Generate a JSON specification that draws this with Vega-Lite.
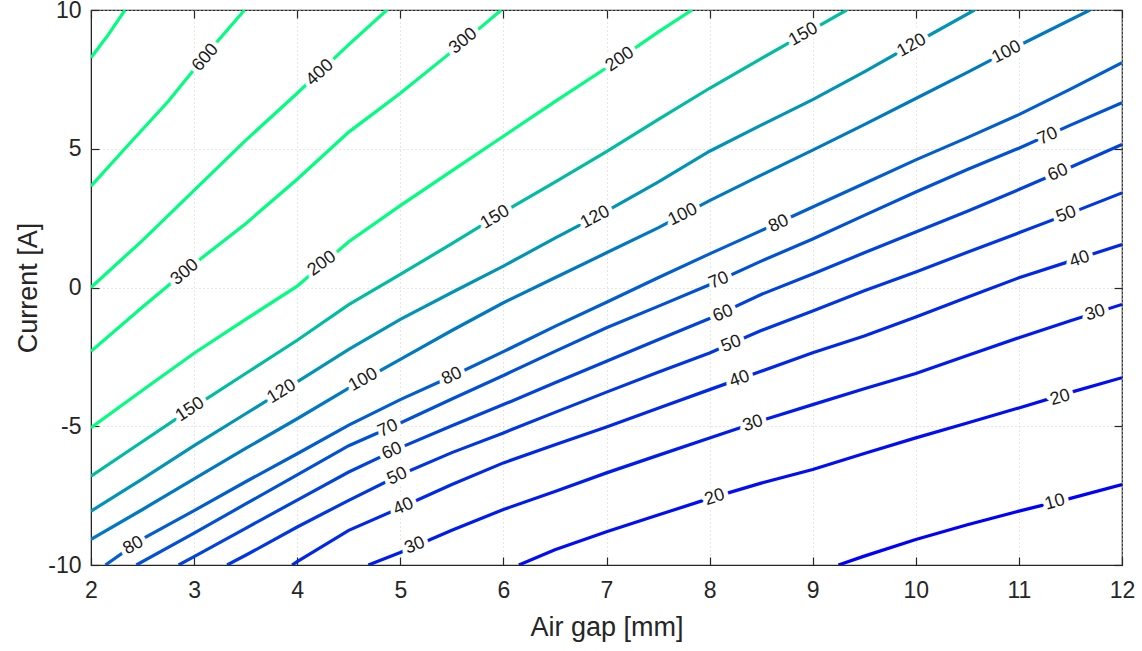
{
  "$schema": "https://vega.github.io/schema/vega-lite/v6.json",
  "width": 1031,
  "height": 555,
  "autosize": {"type": "none"},
  "padding": {"left": 91, "top": 10, "right": 20, "bottom": 86},
  "background": "white",
  "config": {
    "view": {"stroke": "#262626", "strokeWidth": 1.2},
    "font": "Liberation Sans",
    "axis": {
      "labelFont": "Liberation Sans",
      "titleFont": "Liberation Sans",
      "labelColor": "#262626",
      "titleColor": "#262626",
      "labelFontSize": 23,
      "titleFontSize": 27,
      "titleFontWeight": "normal",
      "domainColor": "#262626",
      "tickColor": "#262626",
      "tickWidth": 1.2,
      "gridColor": "#cfcfcf",
      "gridDash": [1, 3],
      "gridWidth": 1
    }
  },
  "resolve": {"axis": {"x": "independent", "y": "independent"}},
  "datasets": {
    "lines": [
      {"level": 800, "gap": 2, "current": 8.28}, {"level": 800, "gap": 2.17, "current": 9.12}, {"level": 800, "gap": 2.33, "current": 10},
      {"level": 600, "gap": 2, "current": 3.65}, {"level": 600, "gap": 2.33, "current": 5.01}, {"level": 600, "gap": 2.75, "current": 6.71}, {"level": 600, "gap": 3, "current": 7.86}, {"level": 600, "gap": 3.23, "current": 8.88}, {"level": 600, "gap": 3.49, "current": 10},
      {"level": 400, "gap": 2, "current": 0}, {"level": 400, "gap": 2.5, "current": 1.7}, {"level": 400, "gap": 3, "current": 3.5}, {"level": 400, "gap": 3.5, "current": 5.3}, {"level": 400, "gap": 4, "current": 7.0}, {"level": 400, "gap": 4.5, "current": 8.75}, {"level": 400, "gap": 4.87, "current": 10},
      {"level": 300, "gap": 2, "current": -2.3}, {"level": 300, "gap": 2.5, "current": -0.7}, {"level": 300, "gap": 3, "current": 0.85}, {"level": 300, "gap": 3.5, "current": 2.3}, {"level": 300, "gap": 4, "current": 3.9}, {"level": 300, "gap": 4.5, "current": 5.6}, {"level": 300, "gap": 5, "current": 7.0}, {"level": 300, "gap": 5.5, "current": 8.5}, {"level": 300, "gap": 5.98, "current": 10},
      {"level": 200, "gap": 2, "current": -5.05}, {"level": 200, "gap": 2.5, "current": -3.7}, {"level": 200, "gap": 3, "current": -2.37}, {"level": 200, "gap": 3.5, "current": -1.15}, {"level": 200, "gap": 4, "current": 0.05}, {"level": 200, "gap": 4.5, "current": 1.65}, {"level": 200, "gap": 5, "current": 2.95}, {"level": 200, "gap": 5.5, "current": 4.2}, {"level": 200, "gap": 6, "current": 5.45}, {"level": 200, "gap": 6.5, "current": 6.7}, {"level": 200, "gap": 7, "current": 7.92}, {"level": 200, "gap": 7.5, "current": 9.2}, {"level": 200, "gap": 7.83, "current": 10},
      {"level": 150, "gap": 2, "current": -6.8}, {"level": 150, "gap": 2.5, "current": -5.55}, {"level": 150, "gap": 3, "current": -4.3}, {"level": 150, "gap": 3.5, "current": -3.1}, {"level": 150, "gap": 4, "current": -1.9}, {"level": 150, "gap": 4.5, "current": -0.62}, {"level": 150, "gap": 5, "current": 0.47}, {"level": 150, "gap": 5.5, "current": 1.58}, {"level": 150, "gap": 6, "current": 2.72}, {"level": 150, "gap": 6.5, "current": 3.8}, {"level": 150, "gap": 7, "current": 4.9}, {"level": 150, "gap": 7.5, "current": 6.05}, {"level": 150, "gap": 8, "current": 7.18}, {"level": 150, "gap": 8.5, "current": 8.25}, {"level": 150, "gap": 9, "current": 9.3}, {"level": 150, "gap": 9.33, "current": 10},
      {"level": 120, "gap": 2, "current": -8.06}, {"level": 120, "gap": 2.5, "current": -6.9}, {"level": 120, "gap": 3, "current": -5.7}, {"level": 120, "gap": 3.5, "current": -4.55}, {"level": 120, "gap": 4, "current": -3.4}, {"level": 120, "gap": 4.5, "current": -2.23}, {"level": 120, "gap": 5, "current": -1.15}, {"level": 120, "gap": 5.5, "current": -0.18}, {"level": 120, "gap": 6, "current": 0.77}, {"level": 120, "gap": 6.5, "current": 1.78}, {"level": 120, "gap": 7, "current": 2.75}, {"level": 120, "gap": 7.5, "current": 3.8}, {"level": 120, "gap": 8, "current": 4.91}, {"level": 120, "gap": 8.5, "current": 5.85}, {"level": 120, "gap": 9, "current": 6.77}, {"level": 120, "gap": 9.5, "current": 7.77}, {"level": 120, "gap": 10, "current": 8.82}, {"level": 120, "gap": 10.57, "current": 10},
      {"level": 100, "gap": 2, "current": -9.08}, {"level": 100, "gap": 2.5, "current": -8.0}, {"level": 100, "gap": 3, "current": -6.9}, {"level": 100, "gap": 3.5, "current": -5.8}, {"level": 100, "gap": 4, "current": -4.73}, {"level": 100, "gap": 4.5, "current": -3.63}, {"level": 100, "gap": 5, "current": -2.59}, {"level": 100, "gap": 5.5, "current": -1.55}, {"level": 100, "gap": 6, "current": -0.55}, {"level": 100, "gap": 6.5, "current": 0.35}, {"level": 100, "gap": 7, "current": 1.25}, {"level": 100, "gap": 7.5, "current": 2.15}, {"level": 100, "gap": 8, "current": 3.13}, {"level": 100, "gap": 8.5, "current": 4.05}, {"level": 100, "gap": 9, "current": 4.95}, {"level": 100, "gap": 9.5, "current": 5.87}, {"level": 100, "gap": 10, "current": 6.81}, {"level": 100, "gap": 10.5, "current": 7.75}, {"level": 100, "gap": 11, "current": 8.72}, {"level": 100, "gap": 11.69, "current": 10},
      {"level": 80, "gap": 2.14, "current": -10}, {"level": 80, "gap": 2.5, "current": -9.06}, {"level": 80, "gap": 3, "current": -8.04}, {"level": 80, "gap": 3.5, "current": -7.0}, {"level": 80, "gap": 4, "current": -5.99}, {"level": 80, "gap": 4.5, "current": -4.96}, {"level": 80, "gap": 5, "current": -4.04}, {"level": 80, "gap": 5.5, "current": -3.2}, {"level": 80, "gap": 6, "current": -2.31}, {"level": 80, "gap": 6.5, "current": -1.4}, {"level": 80, "gap": 7, "current": -0.53}, {"level": 80, "gap": 7.5, "current": 0.35}, {"level": 80, "gap": 8, "current": 1.21}, {"level": 80, "gap": 8.5, "current": 2.05}, {"level": 80, "gap": 9, "current": 2.9}, {"level": 80, "gap": 9.5, "current": 3.75}, {"level": 80, "gap": 10, "current": 4.6}, {"level": 80, "gap": 10.5, "current": 5.4}, {"level": 80, "gap": 11, "current": 6.23}, {"level": 80, "gap": 11.5, "current": 7.15}, {"level": 80, "gap": 12, "current": 8.1},
      {"level": 70, "gap": 2.44, "current": -10}, {"level": 70, "gap": 3, "current": -8.85}, {"level": 70, "gap": 3.5, "current": -7.8}, {"level": 70, "gap": 4, "current": -6.75}, {"level": 70, "gap": 4.5, "current": -5.7}, {"level": 70, "gap": 5, "current": -4.88}, {"level": 70, "gap": 5.5, "current": -4.02}, {"level": 70, "gap": 6, "current": -3.17}, {"level": 70, "gap": 6.5, "current": -2.3}, {"level": 70, "gap": 7, "current": -1.45}, {"level": 70, "gap": 7.5, "current": -0.68}, {"level": 70, "gap": 8, "current": 0.1}, {"level": 70, "gap": 8.5, "current": 0.95}, {"level": 70, "gap": 9, "current": 1.75}, {"level": 70, "gap": 9.5, "current": 2.6}, {"level": 70, "gap": 10, "current": 3.44}, {"level": 70, "gap": 10.5, "current": 4.25}, {"level": 70, "gap": 11, "current": 5.02}, {"level": 70, "gap": 11.5, "current": 5.85}, {"level": 70, "gap": 12, "current": 6.66},
      {"level": 60, "gap": 2.85, "current": -10}, {"level": 60, "gap": 3, "current": -9.7}, {"level": 60, "gap": 3.5, "current": -8.68}, {"level": 60, "gap": 4, "current": -7.66}, {"level": 60, "gap": 4.5, "current": -6.65}, {"level": 60, "gap": 5, "current": -5.77}, {"level": 60, "gap": 5.5, "current": -4.98}, {"level": 60, "gap": 6, "current": -4.22}, {"level": 60, "gap": 6.5, "current": -3.43}, {"level": 60, "gap": 7, "current": -2.66}, {"level": 60, "gap": 7.5, "current": -1.88}, {"level": 60, "gap": 8, "current": -1.12}, {"level": 60, "gap": 8.5, "current": -0.25}, {"level": 60, "gap": 9, "current": 0.49}, {"level": 60, "gap": 9.5, "current": 1.25}, {"level": 60, "gap": 10, "current": 2.0}, {"level": 60, "gap": 10.5, "current": 2.75}, {"level": 60, "gap": 11, "current": 3.53}, {"level": 60, "gap": 11.5, "current": 4.33}, {"level": 60, "gap": 12, "current": 5.15},
      {"level": 50, "gap": 3.32, "current": -10}, {"level": 50, "gap": 3.5, "current": -9.65}, {"level": 50, "gap": 4, "current": -8.63}, {"level": 50, "gap": 4.5, "current": -7.67}, {"level": 50, "gap": 5, "current": -6.75}, {"level": 50, "gap": 5.5, "current": -5.95}, {"level": 50, "gap": 6, "current": -5.24}, {"level": 50, "gap": 6.5, "current": -4.5}, {"level": 50, "gap": 7, "current": -3.77}, {"level": 50, "gap": 7.5, "current": -3.05}, {"level": 50, "gap": 8, "current": -2.36}, {"level": 50, "gap": 8.5, "current": -1.55}, {"level": 50, "gap": 9, "current": -0.85}, {"level": 50, "gap": 9.5, "current": -0.12}, {"level": 50, "gap": 10, "current": 0.56}, {"level": 50, "gap": 10.5, "current": 1.27}, {"level": 50, "gap": 11, "current": 1.97}, {"level": 50, "gap": 11.5, "current": 2.68}, {"level": 50, "gap": 12, "current": 3.41},
      {"level": 40, "gap": 3.95, "current": -10}, {"level": 40, "gap": 4, "current": -9.88}, {"level": 40, "gap": 4.5, "current": -8.75}, {"level": 40, "gap": 5, "current": -7.94}, {"level": 40, "gap": 5.5, "current": -7.1}, {"level": 40, "gap": 6, "current": -6.32}, {"level": 40, "gap": 6.5, "current": -5.67}, {"level": 40, "gap": 7, "current": -5.03}, {"level": 40, "gap": 7.5, "current": -4.35}, {"level": 40, "gap": 8, "current": -3.68}, {"level": 40, "gap": 8.5, "current": -3.02}, {"level": 40, "gap": 9, "current": -2.35}, {"level": 40, "gap": 9.5, "current": -1.75}, {"level": 40, "gap": 10, "current": -1.06}, {"level": 40, "gap": 10.5, "current": -0.35}, {"level": 40, "gap": 11, "current": 0.35}, {"level": 40, "gap": 11.5, "current": 0.95}, {"level": 40, "gap": 12, "current": 1.55},
      {"level": 30, "gap": 4.69, "current": -10}, {"level": 30, "gap": 5, "current": -9.55}, {"level": 30, "gap": 5.5, "current": -8.75}, {"level": 30, "gap": 6, "current": -8.0}, {"level": 30, "gap": 6.5, "current": -7.35}, {"level": 30, "gap": 7, "current": -6.68}, {"level": 30, "gap": 7.5, "current": -6.05}, {"level": 30, "gap": 8, "current": -5.42}, {"level": 30, "gap": 8.5, "current": -4.8}, {"level": 30, "gap": 9, "current": -4.22}, {"level": 30, "gap": 9.5, "current": -3.65}, {"level": 30, "gap": 10, "current": -3.1}, {"level": 30, "gap": 10.5, "current": -2.45}, {"level": 30, "gap": 11, "current": -1.81}, {"level": 30, "gap": 11.5, "current": -1.2}, {"level": 30, "gap": 12, "current": -0.61},
      {"level": 20, "gap": 6.15, "current": -10}, {"level": 20, "gap": 6.5, "current": -9.45}, {"level": 20, "gap": 7, "current": -8.8}, {"level": 20, "gap": 7.5, "current": -8.2}, {"level": 20, "gap": 8, "current": -7.6}, {"level": 20, "gap": 8.5, "current": -7.05}, {"level": 20, "gap": 9, "current": -6.56}, {"level": 20, "gap": 9.5, "current": -5.98}, {"level": 20, "gap": 10, "current": -5.42}, {"level": 20, "gap": 10.5, "current": -4.88}, {"level": 20, "gap": 11, "current": -4.34}, {"level": 20, "gap": 11.5, "current": -3.78}, {"level": 20, "gap": 12, "current": -3.25},
      {"level": 10, "gap": 9.25, "current": -10}, {"level": 10, "gap": 9.5, "current": -9.68}, {"level": 10, "gap": 10, "current": -9.08}, {"level": 10, "gap": 10.5, "current": -8.55}, {"level": 10, "gap": 11, "current": -8.06}, {"level": 10, "gap": 11.5, "current": -7.6}, {"level": 10, "gap": 12, "current": -7.1}
    ],
    "labels": [
      {"level": 600, "gap": 3.11, "current": 8.28, "slope": 4.3},
      {"level": 400, "gap": 4.22, "current": 7.74, "slope": 3.4},
      {"level": 300, "gap": 5.61, "current": 8.88, "slope": 3.0},
      {"level": 300, "gap": 2.91, "current": 0.55, "slope": 3.1},
      {"level": 200, "gap": 7.13, "current": 8.22, "slope": 2.5},
      {"level": 200, "gap": 4.24, "current": 0.86, "slope": 2.7},
      {"level": 150, "gap": 8.91, "current": 9.12, "slope": 2.1},
      {"level": 150, "gap": 5.92, "current": 2.53, "slope": 2.2},
      {"level": 150, "gap": 2.96, "current": -4.4, "slope": 2.45},
      {"level": 120, "gap": 9.96, "current": 8.72, "slope": 2.05},
      {"level": 120, "gap": 6.89, "current": 2.53, "slope": 1.95},
      {"level": 120, "gap": 3.85, "current": -3.75, "slope": 2.3},
      {"level": 100, "gap": 10.88, "current": 8.48, "slope": 1.9},
      {"level": 100, "gap": 7.74, "current": 2.62, "slope": 1.8},
      {"level": 100, "gap": 4.64, "current": -3.33, "slope": 2.05},
      {"level": 80, "gap": 8.67, "current": 2.3, "slope": 1.7},
      {"level": 80, "gap": 5.5, "current": -3.2, "slope": 1.75},
      {"level": 80, "gap": 2.41, "current": -9.3, "slope": 2.05},
      {"level": 70, "gap": 11.28, "current": 5.45, "slope": 1.65},
      {"level": 70, "gap": 8.09, "current": 0.25, "slope": 1.6},
      {"level": 70, "gap": 4.88, "current": -5.08, "slope": 1.7},
      {"level": 60, "gap": 11.38, "current": 4.14, "slope": 1.6},
      {"level": 60, "gap": 8.13, "current": -0.94, "slope": 1.55},
      {"level": 60, "gap": 4.92, "current": -5.9, "slope": 1.65},
      {"level": 50, "gap": 11.46, "current": 2.63, "slope": 1.42},
      {"level": 50, "gap": 8.21, "current": -2.03, "slope": 1.45},
      {"level": 50, "gap": 4.97, "current": -6.8, "slope": 1.7},
      {"level": 40, "gap": 11.59, "current": 1.02, "slope": 1.25},
      {"level": 40, "gap": 8.29, "current": -3.3, "slope": 1.3},
      {"level": 40, "gap": 5.03, "current": -7.9, "slope": 1.65},
      {"level": 30, "gap": 11.74, "current": -0.92, "slope": 1.2},
      {"level": 30, "gap": 8.42, "current": -4.9, "slope": 1.25},
      {"level": 30, "gap": 5.14, "current": -9.3, "slope": 1.55},
      {"level": 20, "gap": 11.4, "current": -3.97, "slope": 1.08},
      {"level": 20, "gap": 8.05, "current": -7.56, "slope": 1.2},
      {"level": 10, "gap": 11.35, "current": -7.74, "slope": 1.0}
    ]
  },
  "layer": [
    {
      "data": {"name": "lines"},
      "mark": {"type": "line", "strokeWidth": 3.2, "clip": true, "strokeCap": "butt"},
      "encoding": {
        "x": {
          "field": "gap", "type": "quantitative",
          "scale": {"domain": [2, 12], "nice": false, "zero": false},
          "axis": {
            "orient": "bottom",
            "title": "Air gap [mm]", "values": [2, 3, 4, 5, 6, 7, 8, 9, 10, 11, 12],
            "grid": true, "tickSize": -8, "labelPadding": 22, "titlePadding": 12,
            "labelExpr": "'' + datum.value", "labelFlush": false
          }
        },
        "y": {
          "field": "current", "type": "quantitative",
          "scale": {"domain": [-10, 10], "nice": false, "zero": false},
          "axis": {
            "orient": "left",
            "title": "Current [A]", "values": [-10, -5, 0, 5, 10],
            "grid": true, "tickSize": -8, "labelPadding": 18, "titlePadding": 5,
            "labelExpr": "'' + datum.value", "labelFlush": false
          }
        },
        "detail": {"field": "level", "type": "nominal"},
        "color": {
          "field": "level", "type": "quantitative",
          "scale": {"domain": [10, 200], "range": ["#0000ff", "#00ff80"], "clamp": true, "interpolate": "rgb"},
          "legend": null
        }
      }
    },
    {
      "data": {"name": "labels"},
      "transform": [{"calculate": "-atan(datum.slope * (555 / 20) / (1031 / 10)) * 180 / PI", "as": "angle"}],
      "mark": {"type": "text", "fontSize": 18, "font": "Liberation Sans", "align": "center", "baseline": "middle", "fill": "white", "stroke": "white", "strokeWidth": 9, "strokeJoin": "round"},
      "encoding": {
        "x": {"field": "gap", "type": "quantitative", "axis": null},
        "y": {"field": "current", "type": "quantitative", "axis": null},
        "text": {"field": "level", "type": "quantitative", "format": "d"},
        "angle": {"field": "angle", "type": "quantitative", "scale": null}
      }
    },
    {
      "data": {"name": "labels"},
      "transform": [{"calculate": "-atan(datum.slope * (555 / 20) / (1031 / 10)) * 180 / PI", "as": "angle"}],
      "mark": {"type": "text", "fontSize": 18, "font": "Liberation Sans", "align": "center", "baseline": "middle", "fill": "#1a1a1a"},
      "encoding": {
        "x": {"field": "gap", "type": "quantitative", "axis": null},
        "y": {"field": "current", "type": "quantitative", "axis": null},
        "text": {"field": "level", "type": "quantitative", "format": "d"},
        "angle": {"field": "angle", "type": "quantitative", "scale": null}
      }
    },
    {
      "data": {"name": "labels"},
      "mark": {"type": "point", "opacity": 0},
      "encoding": {
        "x": {
          "field": "gap", "type": "quantitative",
          "axis": {"orient": "top", "title": null, "labels": false, "grid": false, "domain": false, "tickSize": -8, "values": [2, 3, 4, 5, 6, 7, 8, 9, 10, 11, 12]}
        },
        "y": {
          "field": "current", "type": "quantitative",
          "axis": {"orient": "right", "title": null, "labels": false, "grid": false, "domain": false, "tickSize": -8, "values": [-10, -5, 0, 5, 10]}
        }
      }
    }
  ]
}
